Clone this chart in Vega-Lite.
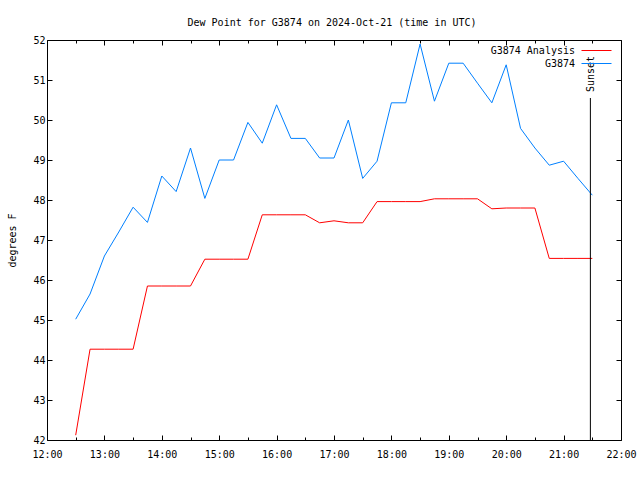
{
  "$schema": "https://vega.github.io/schema/vega-lite/v6.json",
  "autosize": "none",
  "width": 574,
  "height": 400,
  "padding": {"left": 47, "top": 40, "right": 19, "bottom": 40},
  "background": "white",
  "config": {
    "font": "DejaVu Sans Mono",
    "view": {"stroke": "black", "strokeWidth": 1},
    "axis": {"labelFont": "DejaVu Sans Mono", "labelFontSize": 10, "labelColor": "black", "titleFont": "DejaVu Sans Mono", "titleFontSize": 10, "titleFontWeight": "normal", "titleColor": "black", "domain": false, "grid": false, "tickColor": "black", "tickWidth": 1},
    "legend": {"labelFont": "DejaVu Sans Mono", "labelFontSize": 10, "labelColor": "black"}
  },
  "title": {"text": "Dew Point for G3874 on 2024-Oct-21 (time in UTC)", "font": "DejaVu Sans Mono", "fontSize": 10, "fontWeight": "normal", "color": "black", "anchor": "middle", "baseline": "alphabetic", "offset": 15, "dy": 16, "dx": -2},
  "datasets": {
    "dew": [
      {"time": "2024-10-21T12:30", "series": "G3874 Analysis", "dewpoint": 42.12},
      {"time": "2024-10-21T12:45", "series": "G3874 Analysis", "dewpoint": 44.27},
      {"time": "2024-10-21T13:00", "series": "G3874 Analysis", "dewpoint": 44.27},
      {"time": "2024-10-21T13:15", "series": "G3874 Analysis", "dewpoint": 44.27},
      {"time": "2024-10-21T13:30", "series": "G3874 Analysis", "dewpoint": 44.27},
      {"time": "2024-10-21T13:45", "series": "G3874 Analysis", "dewpoint": 45.85},
      {"time": "2024-10-21T14:00", "series": "G3874 Analysis", "dewpoint": 45.85},
      {"time": "2024-10-21T14:15", "series": "G3874 Analysis", "dewpoint": 45.85},
      {"time": "2024-10-21T14:30", "series": "G3874 Analysis", "dewpoint": 45.85},
      {"time": "2024-10-21T14:45", "series": "G3874 Analysis", "dewpoint": 46.52},
      {"time": "2024-10-21T15:00", "series": "G3874 Analysis", "dewpoint": 46.52},
      {"time": "2024-10-21T15:15", "series": "G3874 Analysis", "dewpoint": 46.52},
      {"time": "2024-10-21T15:30", "series": "G3874 Analysis", "dewpoint": 46.52},
      {"time": "2024-10-21T15:45", "series": "G3874 Analysis", "dewpoint": 47.63},
      {"time": "2024-10-21T16:00", "series": "G3874 Analysis", "dewpoint": 47.63},
      {"time": "2024-10-21T16:15", "series": "G3874 Analysis", "dewpoint": 47.63},
      {"time": "2024-10-21T16:30", "series": "G3874 Analysis", "dewpoint": 47.63},
      {"time": "2024-10-21T16:45", "series": "G3874 Analysis", "dewpoint": 47.43},
      {"time": "2024-10-21T17:00", "series": "G3874 Analysis", "dewpoint": 47.48},
      {"time": "2024-10-21T17:15", "series": "G3874 Analysis", "dewpoint": 47.43},
      {"time": "2024-10-21T17:30", "series": "G3874 Analysis", "dewpoint": 47.43},
      {"time": "2024-10-21T17:45", "series": "G3874 Analysis", "dewpoint": 47.96},
      {"time": "2024-10-21T18:00", "series": "G3874 Analysis", "dewpoint": 47.96},
      {"time": "2024-10-21T18:15", "series": "G3874 Analysis", "dewpoint": 47.96},
      {"time": "2024-10-21T18:30", "series": "G3874 Analysis", "dewpoint": 47.96},
      {"time": "2024-10-21T18:45", "series": "G3874 Analysis", "dewpoint": 48.03},
      {"time": "2024-10-21T19:00", "series": "G3874 Analysis", "dewpoint": 48.03},
      {"time": "2024-10-21T19:15", "series": "G3874 Analysis", "dewpoint": 48.03},
      {"time": "2024-10-21T19:30", "series": "G3874 Analysis", "dewpoint": 48.03},
      {"time": "2024-10-21T19:45", "series": "G3874 Analysis", "dewpoint": 47.78},
      {"time": "2024-10-21T20:00", "series": "G3874 Analysis", "dewpoint": 47.8},
      {"time": "2024-10-21T20:15", "series": "G3874 Analysis", "dewpoint": 47.8},
      {"time": "2024-10-21T20:30", "series": "G3874 Analysis", "dewpoint": 47.8},
      {"time": "2024-10-21T20:45", "series": "G3874 Analysis", "dewpoint": 46.54},
      {"time": "2024-10-21T21:00", "series": "G3874 Analysis", "dewpoint": 46.54},
      {"time": "2024-10-21T21:15", "series": "G3874 Analysis", "dewpoint": 46.54},
      {"time": "2024-10-21T21:30", "series": "G3874 Analysis", "dewpoint": 46.54},
      {"time": "2024-10-21T12:30", "series": "G3874", "dewpoint": 45.02},
      {"time": "2024-10-21T12:45", "series": "G3874", "dewpoint": 45.65},
      {"time": "2024-10-21T13:00", "series": "G3874", "dewpoint": 46.6},
      {"time": "2024-10-21T13:15", "series": "G3874", "dewpoint": 47.2},
      {"time": "2024-10-21T13:30", "series": "G3874", "dewpoint": 47.82},
      {"time": "2024-10-21T13:45", "series": "G3874", "dewpoint": 47.44},
      {"time": "2024-10-21T14:00", "series": "G3874", "dewpoint": 48.6},
      {"time": "2024-10-21T14:15", "series": "G3874", "dewpoint": 48.21},
      {"time": "2024-10-21T14:30", "series": "G3874", "dewpoint": 49.3},
      {"time": "2024-10-21T14:45", "series": "G3874", "dewpoint": 48.04},
      {"time": "2024-10-21T15:00", "series": "G3874", "dewpoint": 49.0},
      {"time": "2024-10-21T15:15", "series": "G3874", "dewpoint": 49.0},
      {"time": "2024-10-21T15:30", "series": "G3874", "dewpoint": 49.94},
      {"time": "2024-10-21T15:45", "series": "G3874", "dewpoint": 49.42},
      {"time": "2024-10-21T16:00", "series": "G3874", "dewpoint": 50.38},
      {"time": "2024-10-21T16:15", "series": "G3874", "dewpoint": 49.54},
      {"time": "2024-10-21T16:30", "series": "G3874", "dewpoint": 49.54},
      {"time": "2024-10-21T16:45", "series": "G3874", "dewpoint": 49.05},
      {"time": "2024-10-21T17:00", "series": "G3874", "dewpoint": 49.05},
      {"time": "2024-10-21T17:15", "series": "G3874", "dewpoint": 50.0},
      {"time": "2024-10-21T17:30", "series": "G3874", "dewpoint": 48.54},
      {"time": "2024-10-21T17:45", "series": "G3874", "dewpoint": 48.97},
      {"time": "2024-10-21T18:00", "series": "G3874", "dewpoint": 50.43},
      {"time": "2024-10-21T18:15", "series": "G3874", "dewpoint": 50.43},
      {"time": "2024-10-21T18:30", "series": "G3874", "dewpoint": 51.9},
      {"time": "2024-10-21T18:45", "series": "G3874", "dewpoint": 50.47},
      {"time": "2024-10-21T19:00", "series": "G3874", "dewpoint": 51.42},
      {"time": "2024-10-21T19:15", "series": "G3874", "dewpoint": 51.42},
      {"time": "2024-10-21T19:30", "series": "G3874", "dewpoint": 50.92},
      {"time": "2024-10-21T19:45", "series": "G3874", "dewpoint": 50.43},
      {"time": "2024-10-21T20:00", "series": "G3874", "dewpoint": 51.38},
      {"time": "2024-10-21T20:15", "series": "G3874", "dewpoint": 49.79},
      {"time": "2024-10-21T20:30", "series": "G3874", "dewpoint": 49.3},
      {"time": "2024-10-21T20:45", "series": "G3874", "dewpoint": 48.87},
      {"time": "2024-10-21T21:00", "series": "G3874", "dewpoint": 48.97},
      {"time": "2024-10-21T21:15", "series": "G3874", "dewpoint": 48.54},
      {"time": "2024-10-21T21:30", "series": "G3874", "dewpoint": 48.12}
    ],
    "sunset": [
      {"event": "Sunset", "time": "2024-10-21T21:28", "bottom": 42, "top": 50.55}
    ]
  },
  "resolve": {"axis": {"x": "independent", "y": "independent"}},
  "layer": [
    {
      "data": {"name": "dew"},
      "transform": [{"filter": "datum.series === 'G3874 Analysis'"}],
      "mark": {"type": "line", "strokeWidth": 1, "interpolate": "linear"},
      "encoding": {
        "x": {"field": "time", "type": "temporal",
          "scale": {"domain": [{"year": 2024, "month": 10, "date": 21, "hours": 12}, {"year": 2024, "month": 10, "date": 21, "hours": 22}]},
          "axis": {"orient": "bottom", "title": null, "format": "%H:%M", "tickSize": -5, "labelPadding": 14, "labelFlush": false, "labelOverlap": false,
            "values": [
              {"year": 2024, "month": 10, "date": 21, "hours": 12},
              {"year": 2024, "month": 10, "date": 21, "hours": 13},
              {"year": 2024, "month": 10, "date": 21, "hours": 14},
              {"year": 2024, "month": 10, "date": 21, "hours": 15},
              {"year": 2024, "month": 10, "date": 21, "hours": 16},
              {"year": 2024, "month": 10, "date": 21, "hours": 17},
              {"year": 2024, "month": 10, "date": 21, "hours": 18},
              {"year": 2024, "month": 10, "date": 21, "hours": 19},
              {"year": 2024, "month": 10, "date": 21, "hours": 20},
              {"year": 2024, "month": 10, "date": 21, "hours": 21},
              {"year": 2024, "month": 10, "date": 21, "hours": 22}
            ]}},
        "y": {"field": "dewpoint", "type": "quantitative",
          "scale": {"domain": [42, 52], "nice": false, "zero": false},
          "axis": {"orient": "left", "title": "degrees F", "titlePadding": 15, "tickSize": -5, "labelPadding": 7, "values": [42, 43, 44, 45, 46, 47, 48, 49, 50, 51, 52], "labelFlush": false, "labelOverlap": false}},
        "color": {"field": "series", "type": "nominal",
          "scale": {"domain": ["G3874 Analysis", "G3874"], "range": ["#ff0000", "#0080ff"]},
          "legend": {"title": null, "orient": "none", "legendX": 544, "legendY": 5, "symbolType": "M-3,0H3", "symbolSize": 100, "symbolStrokeWidth": 1, "labelAlign": "right", "labelOffset": -27, "rowPadding": 2, "padding": 0, "labelFontSize": 10, "labelFont": "DejaVu Sans Mono"}}
      }
    },
    {
      "data": {"name": "dew"},
      "transform": [{"filter": "datum.series === 'G3874'"}],
      "mark": {"type": "line", "strokeWidth": 1, "interpolate": "linear"},
      "encoding": {
        "x": {"field": "time", "type": "temporal",
          "axis": {"orient": "top", "title": null, "labels": false, "tickSize": -5,
            "values": [
              {"year": 2024, "month": 10, "date": 21, "hours": 12},
              {"year": 2024, "month": 10, "date": 21, "hours": 13},
              {"year": 2024, "month": 10, "date": 21, "hours": 14},
              {"year": 2024, "month": 10, "date": 21, "hours": 15},
              {"year": 2024, "month": 10, "date": 21, "hours": 16},
              {"year": 2024, "month": 10, "date": 21, "hours": 17},
              {"year": 2024, "month": 10, "date": 21, "hours": 18},
              {"year": 2024, "month": 10, "date": 21, "hours": 19},
              {"year": 2024, "month": 10, "date": 21, "hours": 20},
              {"year": 2024, "month": 10, "date": 21, "hours": 21},
              {"year": 2024, "month": 10, "date": 21, "hours": 22}
            ]}},
        "y": {"field": "dewpoint", "type": "quantitative",
          "axis": {"orient": "right", "title": null, "labels": false, "tickSize": -5, "values": [42, 43, 44, 45, 46, 47, 48, 49, 50, 51, 52]}},
        "color": {"field": "series", "type": "nominal"}
      }
    },
    {
      "data": {"name": "sunset"},
      "mark": {"type": "rule", "color": "black", "strokeWidth": 1},
      "encoding": {
        "x": {"field": "time", "type": "temporal",
          "axis": {"orient": "bottom", "title": null, "labels": false, "tickSize": -3,
            "values": [
              {"year": 2024, "month": 10, "date": 21, "hours": 12, "minutes": 30},
              {"year": 2024, "month": 10, "date": 21, "hours": 13, "minutes": 30},
              {"year": 2024, "month": 10, "date": 21, "hours": 14, "minutes": 30},
              {"year": 2024, "month": 10, "date": 21, "hours": 15, "minutes": 30},
              {"year": 2024, "month": 10, "date": 21, "hours": 16, "minutes": 30},
              {"year": 2024, "month": 10, "date": 21, "hours": 17, "minutes": 30},
              {"year": 2024, "month": 10, "date": 21, "hours": 18, "minutes": 30},
              {"year": 2024, "month": 10, "date": 21, "hours": 19, "minutes": 30},
              {"year": 2024, "month": 10, "date": 21, "hours": 20, "minutes": 30},
              {"year": 2024, "month": 10, "date": 21, "hours": 21, "minutes": 30}
            ]}},
        "y": {"field": "bottom", "type": "quantitative", "axis": null},
        "y2": {"field": "top"}
      }
    },
    {
      "data": {"name": "sunset"},
      "mark": {"type": "text", "angle": 270, "align": "left", "baseline": "middle", "dx": 6, "dy": 1, "fontSize": 10, "font": "DejaVu Sans Mono", "color": "black"},
      "encoding": {
        "x": {"field": "time", "type": "temporal",
          "axis": {"orient": "top", "title": null, "labels": false, "tickSize": -3,
            "values": [
              {"year": 2024, "month": 10, "date": 21, "hours": 12, "minutes": 30},
              {"year": 2024, "month": 10, "date": 21, "hours": 13, "minutes": 30},
              {"year": 2024, "month": 10, "date": 21, "hours": 14, "minutes": 30},
              {"year": 2024, "month": 10, "date": 21, "hours": 15, "minutes": 30},
              {"year": 2024, "month": 10, "date": 21, "hours": 16, "minutes": 30},
              {"year": 2024, "month": 10, "date": 21, "hours": 17, "minutes": 30},
              {"year": 2024, "month": 10, "date": 21, "hours": 18, "minutes": 30},
              {"year": 2024, "month": 10, "date": 21, "hours": 19, "minutes": 30},
              {"year": 2024, "month": 10, "date": 21, "hours": 20, "minutes": 30},
              {"year": 2024, "month": 10, "date": 21, "hours": 21, "minutes": 30}
            ]}},
        "y": {"field": "top", "type": "quantitative", "axis": null},
        "text": {"field": "event"}
      }
    }
  ]
}
